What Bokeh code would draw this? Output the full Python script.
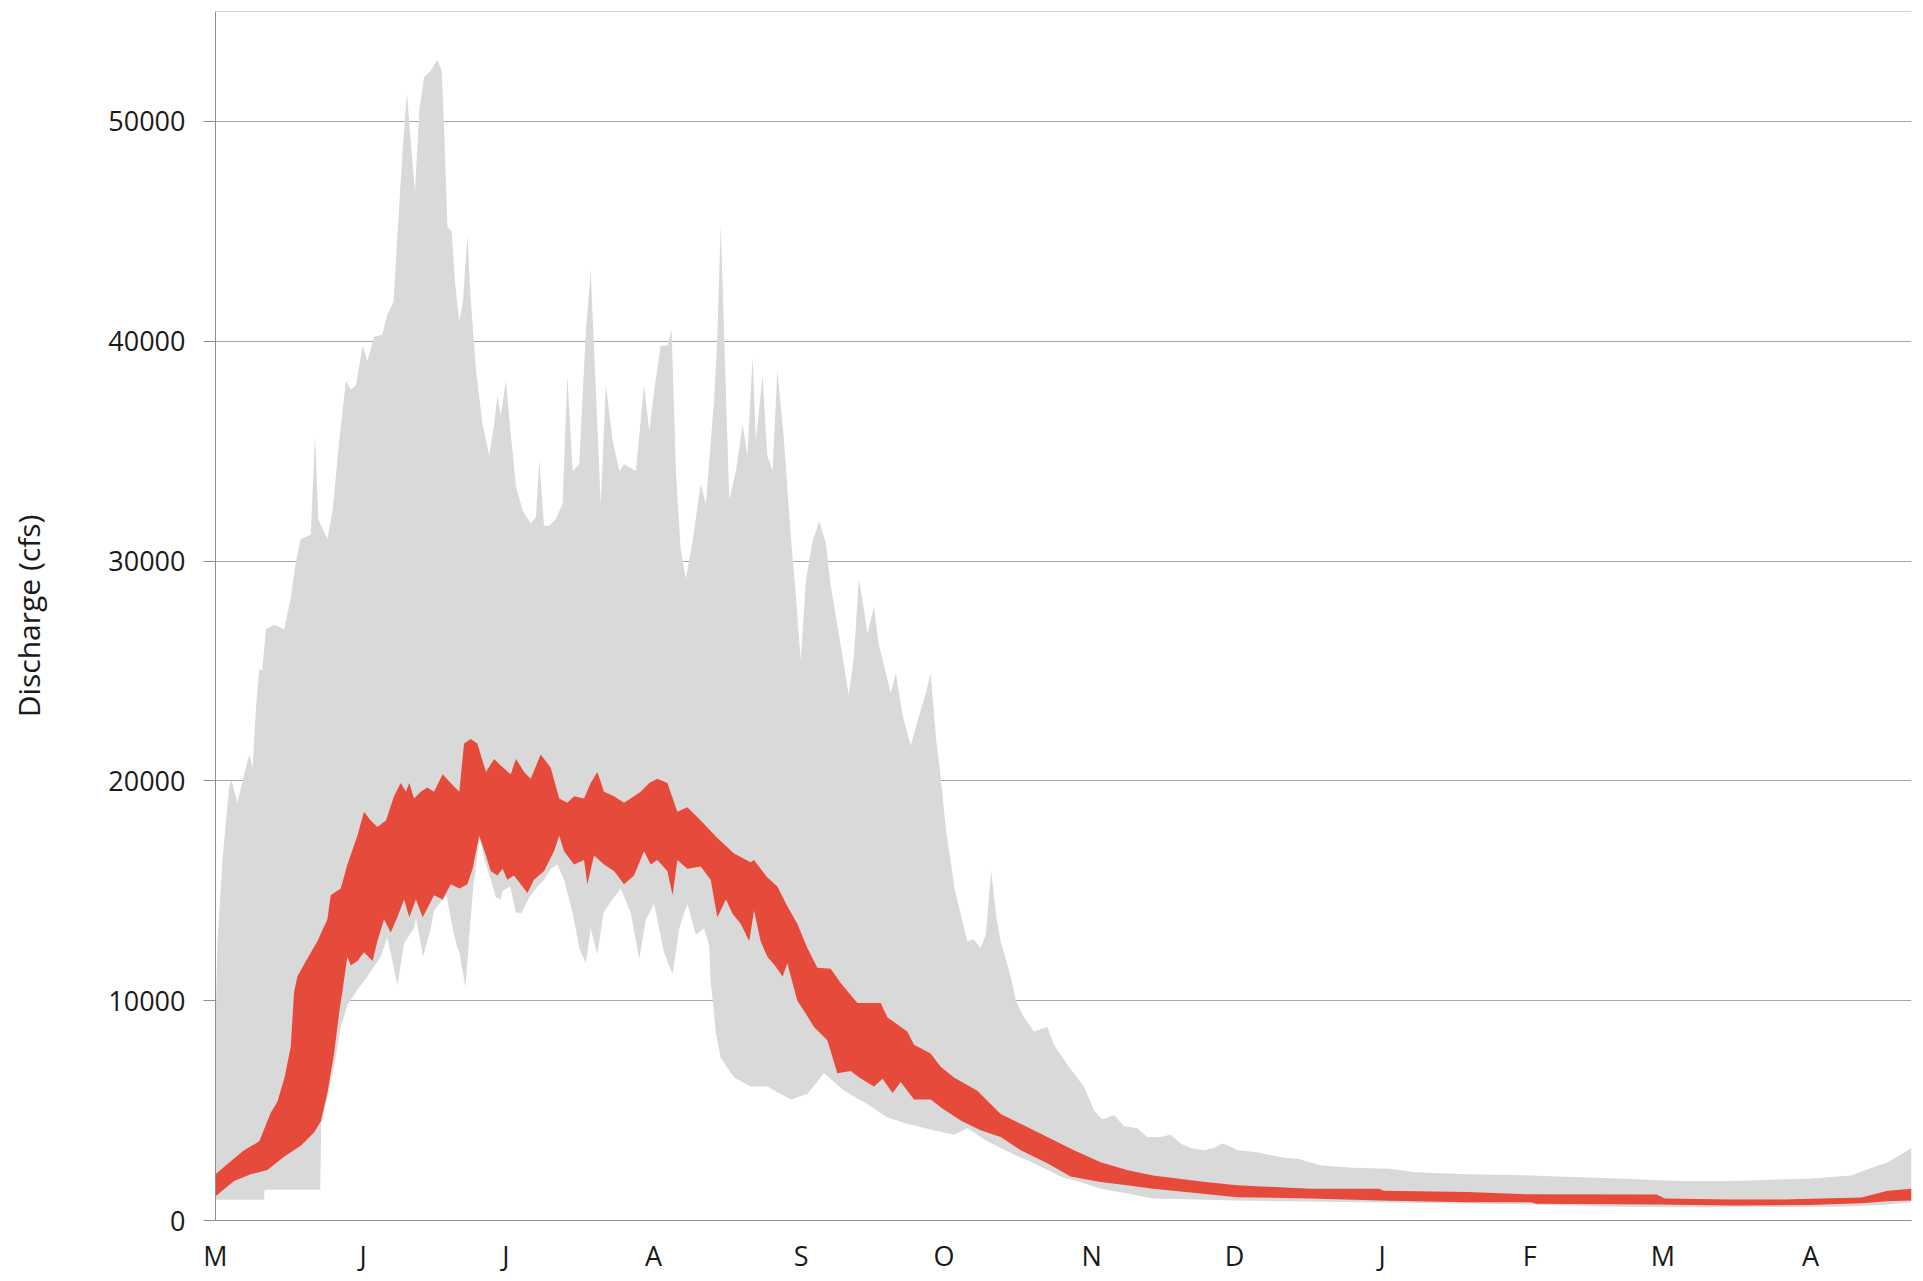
from bokeh.plotting import figure
from bokeh.models import Range1d, FixedTicker, Span
from bokeh.embed import file_html
from bokeh.resources import INLINE

# ---- data (day index from May 1, discharge in cfs) ----
month_ticks = [0, 31, 61, 92, 123, 153, 184, 214, 245, 276, 304, 335]
month_labels = ["M", "J", "J", "A", "S", "O", "N", "D", "J", "F", "M", "A"]
y_ticks = [0, 10000, 20000, 30000, 40000, 50000]
y_title = "Discharge (cfs)"

# gray band: upper envelope (max of record)
gray_max_day = [0.0, 0.4, 1.5, 2.9, 3.4, 4.6, 6.0, 7.1, 7.8, 8.5, 9.2, 9.8, 10.6, 12.3, 14.4, 15.8, 16.9,
                17.9, 20.0, 20.9, 21.6, 23.5, 24.6, 26.0, 27.4, 28.4, 29.5, 30.9, 31.9, 33.3, 35.0, 36.1,
                37.4, 38.2, 39.3, 40.2, 41.0, 41.9, 42.8, 43.8, 45.2, 46.6, 47.5, 48.0, 48.7, 49.6, 50.3,
                51.2, 52.0, 52.9, 53.6, 54.7, 56.1, 57.5, 58.5, 59.2, 59.9, 61.0, 62.0, 63.1, 64.5, 66.2,
                67.3, 68.0, 69.0, 70.1, 71.5, 72.9, 73.9, 75.0, 76.4, 77.8, 78.8, 79.9, 80.9, 82.0, 83.4,
                84.8, 85.8, 88.3, 90.0, 91.1, 92.1, 93.5, 94.9, 95.8, 96.7, 97.7, 98.8, 100.2, 101.9,
                103.0, 104.7, 105.4, 106.1, 106.8, 107.9, 109.3, 110.7, 111.7, 112.8, 113.5, 114.9,
                115.9, 117.0, 118.0, 119.4, 120.8, 121.9, 122.9, 124.0, 125.4, 126.8, 128.2, 129.2,
                130.9, 133.0, 134.1, 135.1, 136.2, 136.9, 138.3, 139.3, 140.8, 141.8, 142.9, 144.3,
                146.0, 147.8, 149.2, 150.2, 151.3, 152.3, 153.4, 155.3, 157.9, 159.2, 160.7, 161.8,
                162.9, 164.0, 164.9, 167.0, 168.1, 169.8, 171.9, 174.7, 176.1, 178.9, 180.6, 182.4,
                184.5, 186.3, 188.7, 190.8, 193.6, 195.7, 198.5, 200.6, 202.7, 204.8, 207.6, 209.7,
                211.4, 212.8, 214.6, 218.8, 224.4, 227.5, 232.2, 238.8, 246.5, 252.0, 263.0, 276.3,
                281.8, 296.1, 307.1, 318.2, 334.7, 343.5, 347.9, 351.2, 354.0, 356.2]
gray_max_cfs = [9000, 12600, 16500, 19800, 20000, 19000, 20300, 21200, 20600, 23300, 25100, 25000, 26900,
                27100, 26900, 28300, 30000, 31000, 31200, 35700, 31900, 31000, 32300, 35500, 38200, 37800,
                38000, 39800, 39100, 40200, 40300, 41200, 41800, 44800, 48700, 51300, 49100, 46800, 50500,
                52000, 52300, 52800, 52300, 49800, 45200, 45000, 42700, 40900, 41900, 44800, 41900, 38700,
                36200, 34800, 36200, 37500, 36600, 38200, 35800, 33400, 32300, 31700, 32000, 34600, 31600,
                31600, 31900, 32600, 38400, 34100, 34400, 40500, 43200, 37700, 32600, 38000, 35500, 34100,
                34400, 34100, 38000, 35900, 37700, 39800, 39800, 40500, 34100, 30500, 29200, 30900, 33500,
                32600, 37300, 40200, 45300, 40500, 32800, 34100, 36200, 34800, 39300, 35500, 38400, 34800,
                34100, 38700, 35500, 31200, 28400, 25500, 29100, 30900, 31800, 30800, 28900, 26700, 23900,
                25700, 29200, 27800, 26700, 27900, 26200, 24900, 24000, 24900, 23000, 21600, 23000, 24000,
                24900, 22000, 20200, 17800, 15000, 12700, 12800, 12400, 13000, 15900, 13800, 12700, 11100,
                10000, 9250, 8600, 8800, 8000, 7100, 6600, 6100, 5000, 4600, 4800, 4300, 4200, 3800, 3800,
                3900, 3500, 3300, 3200, 3300, 3500, 3400, 3200, 3100, 2850, 2800, 2500, 2400, 2350, 2200,
                2100, 2050, 2000, 1900, 1800, 1800, 1900, 2050, 2400, 2650, 3000, 3300]

# gray band: lower envelope (min of record)
gray_min_day = [0.0, 10.2, 10.3, 22.0, 22.2, 23.5, 24.9, 26.3, 27.7, 29.8, 31.9, 34.7, 36.1, 38.2, 39.6,
                41.7, 42.1, 43.6, 45.2, 45.9, 47.0, 48.5, 49.8, 50.8, 51.2, 52.5, 53.3, 54.2, 55.5, 56.4,
                57.8, 58.9, 59.9, 60.3, 61.9, 63.1, 64.3, 65.9, 67.3, 69.0, 70.4, 71.8, 73.2, 75.0, 76.4,
                77.8, 78.8, 80.2, 81.5, 83.0, 85.1, 87.2, 89.0, 90.4, 92.1, 94.2, 96.0, 97.4, 99.1, 100.9,
                102.6, 103.7, 104.0, 105.1, 106.1, 108.9, 112.4, 115.9, 120.8, 124.3, 127.8, 132.0, 136.9,
                141.1, 145.3, 150.9, 155.1, 157.9, 162.1, 167.7, 171.9, 177.5, 182.4, 185.9, 192.2, 196.9,
                206.2, 214.5, 241.0, 274.0, 290.6, 307.1, 318.2, 340.2, 350.0, 356.2]
gray_min_cfs = [940, 940, 1400, 1400, 4400, 5600, 7000, 8800, 9800, 10500, 11100, 12000, 12900, 10700,
                12600, 13300, 13800, 12000, 13300, 14100, 14400, 14800, 13300, 12400, 12200, 10600, 13000,
                15300, 17400, 16500, 15500, 14700, 14600, 15000, 15200, 14000, 14000, 14700, 15100, 15500,
                16000, 16200, 15500, 14000, 12400, 11700, 13300, 12100, 14000, 14500, 15100, 14000, 11900,
                13700, 14400, 12200, 11200, 13300, 14400, 13000, 13300, 12500, 10900, 8500, 7400, 6500,
                6100, 6100, 5500, 5750, 6700, 5900, 5300, 4700, 4400, 4100, 3900, 4200, 3600, 3000, 2600,
                2000, 1700, 1450, 1200, 1000, 950, 910, 830, 740, 640, 600, 600, 620, 700, 830]

# red band: upper edge
red_hi_day = [0.0, 3.2, 6.0, 9.2, 11.6, 13.0, 14.5, 15.8, 16.5, 17.2, 19.0, 21.4, 23.5, 24.2, 26.3, 27.7,
              29.8, 31.2, 32.6, 34.0, 35.8, 37.5, 38.9, 40.0, 40.7, 41.7, 43.1, 44.5, 45.9, 47.7, 49.4,
              51.2, 52.2, 53.6, 55.0, 56.8, 58.5, 59.9, 62.0, 63.1, 64.8, 66.2, 68.3, 70.4, 72.2, 73.9,
              75.3, 77.4, 78.8, 80.2, 81.6, 83.7, 85.8, 87.9, 89.3, 91.1, 92.8, 94.9, 97.0, 99.1, 101.9,
              105.4, 108.9, 112.4, 113.1, 115.9, 118.0, 120.1, 122.2, 124.3, 126.4, 129.2, 131.3, 134.8,
              139.7, 141.1, 145.3, 146.7, 150.2, 152.3, 155.1, 160.0, 164.9, 169.1, 174.7, 180.3, 185.9,
              191.4, 196.9, 202.4, 207.9, 214.5, 224.5, 230.0, 244.3, 245.4, 263.0, 274.0, 302.7, 304.4,
              318.2, 329.2, 345.7, 351.2, 356.2]
red_hi_cfs = [2100, 2700, 3200, 3600, 4900, 5400, 6500, 7900, 10400, 11100, 11800, 12700, 13700, 14800,
              15100, 16200, 17500, 18600, 18200, 17900, 18200, 19300, 19900, 19500, 19900, 19200, 19500,
              19700, 19500, 20300, 19900, 19500, 21700, 21900, 21700, 20400, 21000, 20700, 20300, 21000,
              20400, 20100, 21200, 20600, 19200, 19000, 19300, 19200, 19900, 20400, 19500, 19300, 19000,
              19300, 19500, 19900, 20100, 19900, 18600, 18800, 18200, 17400, 16700, 16300, 16400, 15600,
              15200, 14300, 13500, 12400, 11500, 11450, 10800, 9900, 9900, 9250, 8600, 8000, 7600, 7000,
              6500, 5900, 4850, 4400, 3800, 3200, 2650, 2300, 2050, 1900, 1750, 1600, 1500, 1450, 1450,
              1350, 1300, 1200, 1180, 1000, 950, 950, 1050, 1350, 1450]

# red band: lower edge
red_lo_day = [0.0, 3.9, 7.4, 10.9, 14.4, 17.9, 20.7, 22.1, 23.5, 24.9, 26.0, 26.7, 27.7, 28.4, 29.8, 31.2,
              33.0, 34.0, 35.4, 36.8, 38.2, 39.6, 40.7, 42.1, 43.5, 44.5, 45.9, 47.7, 49.4, 51.2, 52.9,
              54.0, 55.4, 56.8, 57.8, 59.2, 60.3, 61.3, 62.7, 64.1, 65.5, 66.9, 69.0, 71.1, 72.2, 73.2,
              75.3, 77.4, 78.1, 79.5, 81.6, 83.7, 85.8, 87.9, 90.0, 91.4, 92.8, 94.9, 96.0, 97.0, 99.1,
              101.9, 104.0, 105.4, 107.2, 108.6, 110.3, 112.1, 113.1, 114.5, 115.9, 117.5, 119.1, 120.1,
              122.2, 124.0, 125.7, 128.5, 130.6, 133.4, 135.2, 138.3, 140.1, 142.2, 143.9, 146.7, 150.2,
              152.3, 156.5, 160.7, 164.9, 169.1, 174.7, 179.6, 185.9, 191.4, 196.9, 207.9, 214.5, 230.0,
              246.5, 263.0, 276.3, 277.4, 302.7, 318.2, 334.7, 345.7, 351.2, 356.2]
red_lo_cfs = [1100, 1800, 2100, 2300, 2900, 3400, 4000, 4500, 5800, 7600, 9500, 10500, 12000, 11600, 11800,
              12200, 11800, 12700, 13700, 13100, 13800, 14600, 13800, 14600, 13800, 14200, 14800, 14600,
              15300, 15100, 15300, 16000, 17500, 16600, 15900, 15700, 16000, 15500, 15700, 15300, 14900,
              15500, 15900, 16800, 17500, 16800, 16200, 16400, 15300, 16600, 16200, 15900, 15300, 15700,
              16800, 16200, 16400, 15900, 14800, 16400, 16000, 16100, 15500, 13800, 14600, 13950, 13500,
              12700, 14100, 12700, 12000, 11600, 11100, 11700, 10000, 9400, 8800, 8200, 6700, 6800, 6500,
              6100, 6450, 5800, 6300, 5500, 5500, 5150, 4550, 4100, 3800, 3200, 2600, 2000, 1750, 1600,
              1450, 1200, 1060, 1000, 900, 830, 830, 760, 730, 680, 700, 790, 880, 910]

GRAY = "#d9d9d9"
RED = "#e64a3b"
AXIS = "#8f8f8f"
TEXT = "#1a1a1a"
FONT = "Open Sans"

p = figure(width=1923, height=1281,
           x_range=Range1d(0, 356.2), y_range=Range1d(0, 55000),
           output_backend="svg", toolbar_location=None,
           min_border_left=215, min_border_right=12,
           min_border_top=11, min_border_bottom=61)
p.outline_line_color = None
p.background_fill_color = "white"
p.border_fill_color = "white"

gx = gray_max_day + gray_min_day[::-1]
gy = gray_max_cfs + gray_min_cfs[::-1]
p.patch(gx, gy, fill_color=GRAY, line_color=None)

rx = red_hi_day + red_lo_day[::-1]
ry = red_hi_cfs + red_lo_cfs[::-1]
p.patch(rx, ry, fill_color=RED, line_color=None)

# top border of plot area
p.add_layout(Span(location=55000, dimension="width", line_color="#a6a6a6", line_width=1))

# axes
p.xaxis.ticker = FixedTicker(ticks=month_ticks)
p.xaxis.major_label_overrides = {t: l for t, l in zip(month_ticks, month_labels)}
p.xaxis.major_tick_out = 0
p.xaxis.major_tick_in = 0
p.xaxis.minor_tick_out = 0
p.xaxis.minor_tick_in = 0
p.xaxis.axis_line_color = AXIS
p.xaxis.major_label_text_font = FONT
p.xaxis.major_label_text_font_size = "27px"
p.xaxis.major_label_text_color = TEXT
p.xaxis.major_label_standoff = 16

p.yaxis.ticker = FixedTicker(ticks=y_ticks)
p.yaxis.major_label_overrides = {t: str(t) for t in y_ticks}
p.yaxis.major_tick_out = 12
p.yaxis.major_tick_in = 0
p.yaxis.minor_tick_out = 0
p.yaxis.minor_tick_in = 0
p.yaxis.axis_line_color = AXIS
p.yaxis.major_tick_line_color = AXIS
p.yaxis.major_label_text_font = FONT
p.yaxis.major_label_text_font_size = "27px"
p.yaxis.major_label_text_color = TEXT
p.yaxis.major_label_standoff = 18
p.yaxis.axis_label = y_title
p.yaxis.axis_label_text_font = FONT
p.yaxis.axis_label_text_font_size = "30px"
p.yaxis.axis_label_text_font_style = "normal"
p.yaxis.axis_label_text_color = TEXT
p.yaxis.axis_label_standoff = 56

p.xgrid.grid_line_color = None
p.ygrid.ticker = FixedTicker(ticks=y_ticks)
p.ygrid.grid_line_color = "#a6a6a6"
p.ygrid.grid_line_width = 1

open("out.html", "w").write(file_html(p, INLINE))
